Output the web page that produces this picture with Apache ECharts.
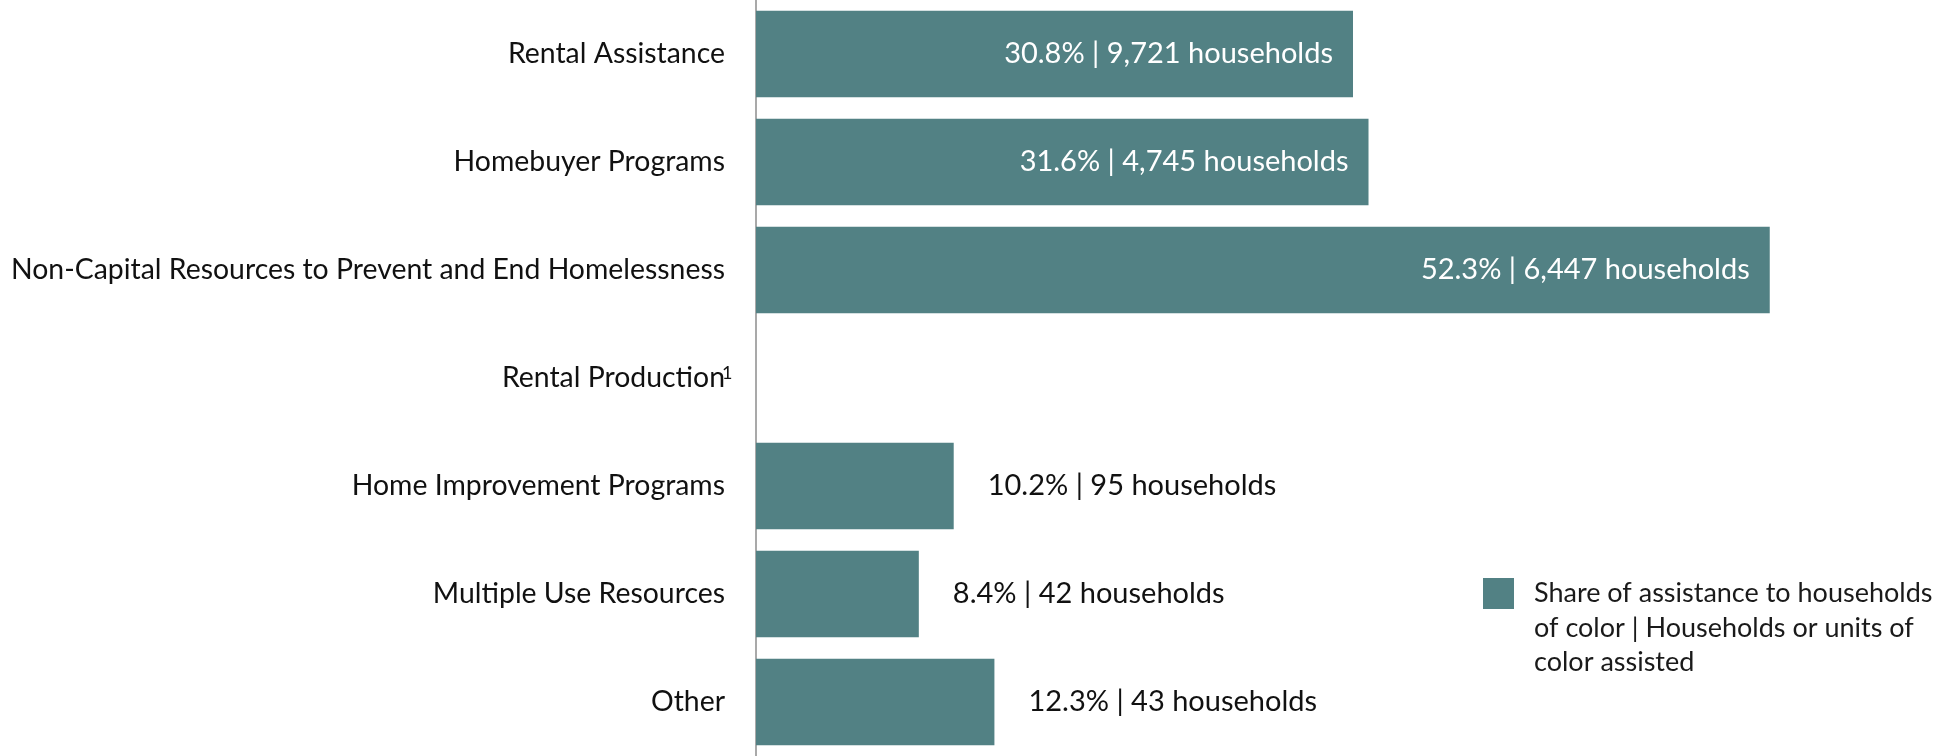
<!DOCTYPE html>
<html>
<head>
<meta charset="utf-8">
<script src="https://cdn.jsdelivr.net/npm/echarts@6/dist/echarts.min.js"></script>
<style>
  html, body { margin: 0; padding: 0; background: #ffffff; }
  #chart { width: 1939px; height: 756px; }
</style>
</head>
<body>
<div id="chart"></div>
<script>
// Program categories, top to bottom
const categories = [
  'Rental Assistance',
  'Homebuyer Programs',
  'Non-Capital Resources to Prevent and End Homelessness',
  'Rental Production',
  'Home Improvement Programs',
  'Multiple Use Resources',
  'Other'
];
// Share of assistance to households of color (%)
const sharePct = [30.8, 31.6, 52.3, null, 10.2, 8.4, 12.3];
// Households or units of color assisted
const households = [9721, 4745, 6447, null, 95, 42, 43];
// Categories carrying a footnote marker
const footnotes = { 'Rental Production': '1' };

const legendName = 'Share of assistance to households\nof color | Households or units of\ncolor assisted';

const BAR_COLOR = '#528184';
const FONT = 'Lato';
const CAT_SIZE = 28.4;
const VALUE_SIZE = 29;
const LEGEND_SIZE = 27;

const seriesData = sharePct.map((v, i) => {
  if (v == null) return { value: null, label: { show: false } };
  const inside = v > 20;
  return {
    value: v,
    label: inside
      ? { position: 'insideRight', distance: 20, color: '#ffffff' }
      : { position: 'right', distance: 34, color: '#111111' }
  };
});

const chart = echarts.init(document.getElementById('chart'), null, { renderer: 'canvas' });

chart.setOption({
  backgroundColor: '#ffffff',
  animation: false,
  grid: { left: 756, right: 20, top: 0, height: 763, containLabel: false },
  legend: {
    show: true,
    left: 1478,
    top: 502,
    itemWidth: 31,
    itemHeight: 31,
    icon: 'rect',
    data: [legendName],
    // two leading empty lines put the first text line level with the swatch
    formatter: (name) => '\n\n' + name,
    textStyle: {
      fontFamily: FONT,
      fontSize: LEGEND_SIZE,
      color: '#1a1a1a',
      lineHeight: 34.6,
      padding: [0, 0, 0, 15]
    }
  },
  xAxis: {
    type: 'value',
    min: 0,
    max: 60,
    show: false
  },
  yAxis: {
    type: 'category',
    inverse: true,
    data: categories,
    axisLine: { show: true, lineStyle: { color: '#8c8c8c', width: 1.5 } },
    axisTick: { show: false },
    splitLine: { show: false },
    axisLabel: {
      margin: 31,
      fontFamily: FONT,
      fontSize: CAT_SIZE,
      color: '#111111',
      formatter: (name) => footnotes[name] ? name + '{sup| ' + footnotes[name] + '}' : name,
      rich: {
        sup: { fontFamily: FONT, fontSize: 18, color: '#111111', verticalAlign: 'top', width: 0, align: 'left' }
      }
    }
  },
  series: [{
    name: legendName,
    type: 'bar',
    data: seriesData,
    barCategoryGap: '20%',
    itemStyle: { color: BAR_COLOR },
    label: {
      show: true,
      fontFamily: FONT,
      fontSize: VALUE_SIZE,
      formatter: (p) => {
        const hh = households[p.dataIndex];
        return p.value.toFixed(1) + '% | ' + hh.toLocaleString('en-US') + ' households';
      }
    }
  }]
});
</script>
</body>
</html>
